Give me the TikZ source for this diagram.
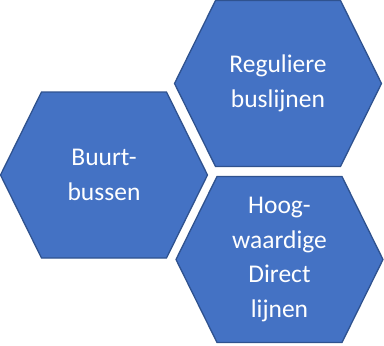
\documentclass[tikz,border=0pt]{standalone}
\usepackage{fontspec}
\setmainfont{Carlito}
\definecolor{hexfill}{HTML}{4472C4}
\definecolor{hexline}{HTML}{2F528F}
\tikzset{
  hexbox/.style={fill=hexfill, draw=hexline, line width=1.3pt, line join=miter},
  hextext/.style={text=white, align=center, font=\fontsize{25.5}{34.5}\selectfont}
}
\newcommand\myhex[4]{% name, cx, cy, text
  \draw[hexbox] (#2-103.5,#3) -- (#2-62.5,#3-83) -- (#2+62.5,#3-83) -- (#2+103.5,#3) -- (#2+62.5,#3+83) -- (#2-62.5,#3+83) -- cycle;
  \node[hextext] (#1) at (#2,#3) {#4};
}
\begin{document}
\begin{tikzpicture}[x=1pt,y=-1pt]
\useasboundingbox (0,0) rectangle (384,346);
\myhex{buurt}{104}{175}{Buurt-\\bussen}
\myhex{regulier}{278}{83.5}{Reguliere\\buslijnen}
\myhex{hoog}{279.5}{259.5}{Hoog-\\waardige\\Direct\\lijnen}
\end{tikzpicture}
\end{document}
